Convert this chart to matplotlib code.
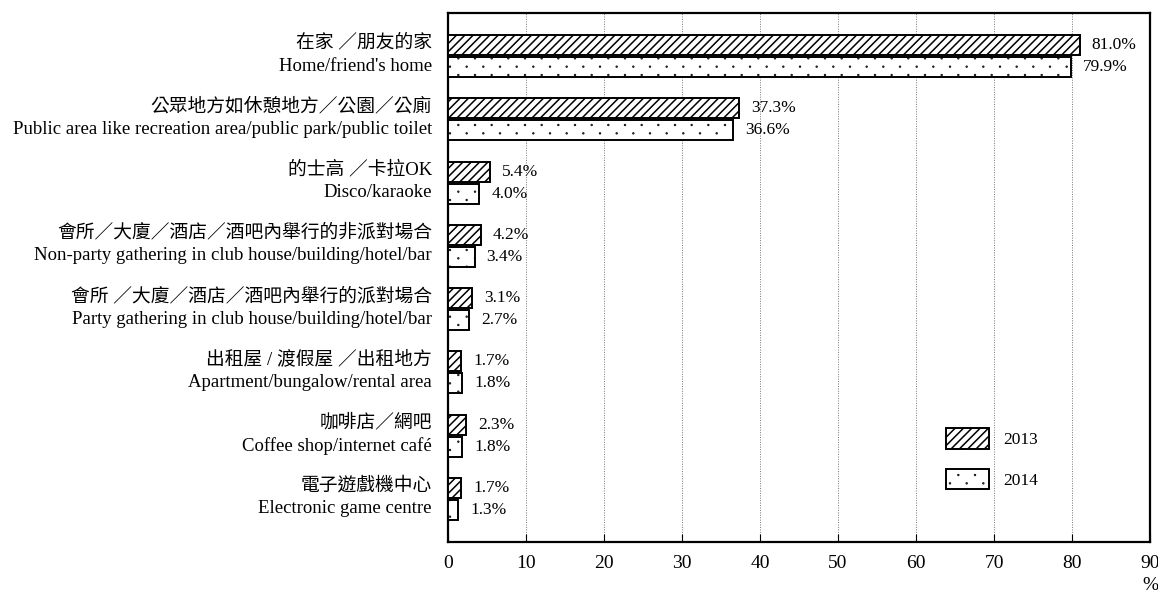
import matplotlib
matplotlib.use('Agg')
import matplotlib.pyplot as plt
import matplotlib.hatch as mhatch
from matplotlib.patches import Patch
from matplotlib.path import Path
import numpy as np

plt.rcParams['font.family'] = ['Liberation Serif', 'Noto Sans CJK TC', 'DejaVu Sans']
plt.rcParams['hatch.linewidth'] = 1.1

labels_zh = ['在家 ／朋友的家', '公眾地方如休憩地方／公園／公廁', '的士高 ／卡拉OK',
             '會所／大廈／酒店／酒吧內舉行的非派對場合', '會所 ／大廈／酒店／酒吧內舉行的派對場合',
             '出租屋 / 渡假屋 ／出租地方', '咖啡店／網吧', '電子遊戲機中心']
labels_en = ["Home/friend's home", 'Public area like recreation area/public park/public toilet',
             'Disco/karaoke', 'Non-party gathering in club house/building/hotel/bar',
             'Party gathering in club house/building/hotel/bar', 'Apartment/bungalow/rental area',
             'Coffee shop/internet café', 'Electronic game centre']
vals_2013 = [81.0, 37.3, 5.4, 4.2, 3.1, 1.7, 2.3, 1.7]
vals_2014 = [79.9, 36.6, 4.0, 3.4, 2.7, 1.8, 1.8, 1.3]
years = ['2013', '2014']
xticks = [0, 10, 20, 30, 40, 50, 60, 70, 80, 90]


# sparse small dots: staggered rows, wider apart across than down
class SparseDots(mhatch.HatchPatternBase):
    def __init__(self, hatch, density):
        n = hatch.count('.') * density
        circle = Path.unit_circle()
        self.cv = circle.vertices
        self.cc = circle.codes
        self.pts = []
        if n > 0:
            rows = 2 * n
            for k in range(rows + 1):
                if k % 2 == 0:
                    xs = np.linspace(0, 1, n + 1)
                else:
                    xs = (np.arange(n) + 0.5) / n
                for x in xs:
                    self.pts.append((x, k / rows))
        self.num_vertices = len(self.pts) * len(self.cv)

    def set_vertices_and_codes(self, vertices, codes):
        r = 0.004
        nv = len(self.cv)
        for k, (x, y) in enumerate(self.pts):
            vertices[k * nv:(k + 1) * nv] = self.cv * r + (x, y)
            codes[k * nv:(k + 1) * nv] = self.cc


mhatch._hatch_types = [t for t in mhatch._hatch_types
                       if t is not mhatch.SmallFilledCircles] + [SparseDots]

px = 72 / 100  # points per pixel

fig = plt.figure(figsize=(11.58, 5.92), dpi=100)
ax = fig.add_axes([448 / 1158, 50 / 592, 702 / 1158, 529 / 592])

y = np.arange(len(vals_2013))
h = 0.316
off = 0.174
ax.barh(y - off, vals_2013, height=h, color='white', edgecolor='black',
        linewidth=1.4, hatch='////', zorder=3)
ax.barh(y + off, vals_2014, height=h, color='white', edgecolor='black',
        linewidth=1.4, hatch='.', zorder=3)

for i in range(len(y)):
    ax.annotate(f'{vals_2013[i]:.1f}%', xy=(vals_2013[i], y[i] - off), xytext=(12 * px, 0),
                textcoords='offset points', ha='left', va='center', fontsize=12.5)
    ax.annotate(f'{vals_2014[i]:.1f}%', xy=(vals_2014[i], y[i] + off), xytext=(12 * px, 0),
                textcoords='offset points', ha='left', va='center', fontsize=12.5)
    ax.annotate(labels_zh[i], xy=(0, y[i]), xycoords=('axes fraction', 'data'),
                xytext=(-16 * px, 13 * px), textcoords='offset points',
                ha='right', va='center', fontsize=13.5)
    ax.annotate(labels_en[i], xy=(0, y[i]), xycoords=('axes fraction', 'data'),
                xytext=(-16 * px, -10 * px), textcoords='offset points',
                ha='right', va='center', fontsize=13.5)

ax.set_xlim(0, 90)
ax.set_ylim(len(y) - 1 + 0.68, -0.68)
ax.set_xticks(xticks)
ax.set_xticklabels([str(t) for t in xticks], fontsize=14)
ax.set_yticks([])
ax.tick_params(axis='x', direction='in', length=6, width=0.8, pad=9)
ax.grid(axis='x', color='#777777', linestyle=(0, (1, 1.5)), linewidth=0.7, zorder=0)
for s in ax.spines.values():
    s.set_linewidth(1.6)

ax.annotate('%', xy=(1, 0), xycoords='axes fraction', xytext=(0, -43 * px),
            textcoords='offset points', ha='center', va='center', fontsize=14)

fs = 12.5
fs_px = fs / px
handles = [Patch(facecolor='white', edgecolor='black', linewidth=1.4, hatch='////'),
           Patch(facecolor='white', edgecolor='black', linewidth=1.4, hatch='.')]
ax.legend(handles, years, loc='upper left', frameon=False, fontsize=fs,
          bbox_to_anchor=((946 - 448) / 702, (542 - 428) / 529),
          borderpad=0, borderaxespad=0, handlelength=43 / fs_px, handleheight=25 / fs_px,
          handletextpad=14 / fs_px, labelspacing=20 / fs_px)

fig.savefig('out.png', dpi=100)
